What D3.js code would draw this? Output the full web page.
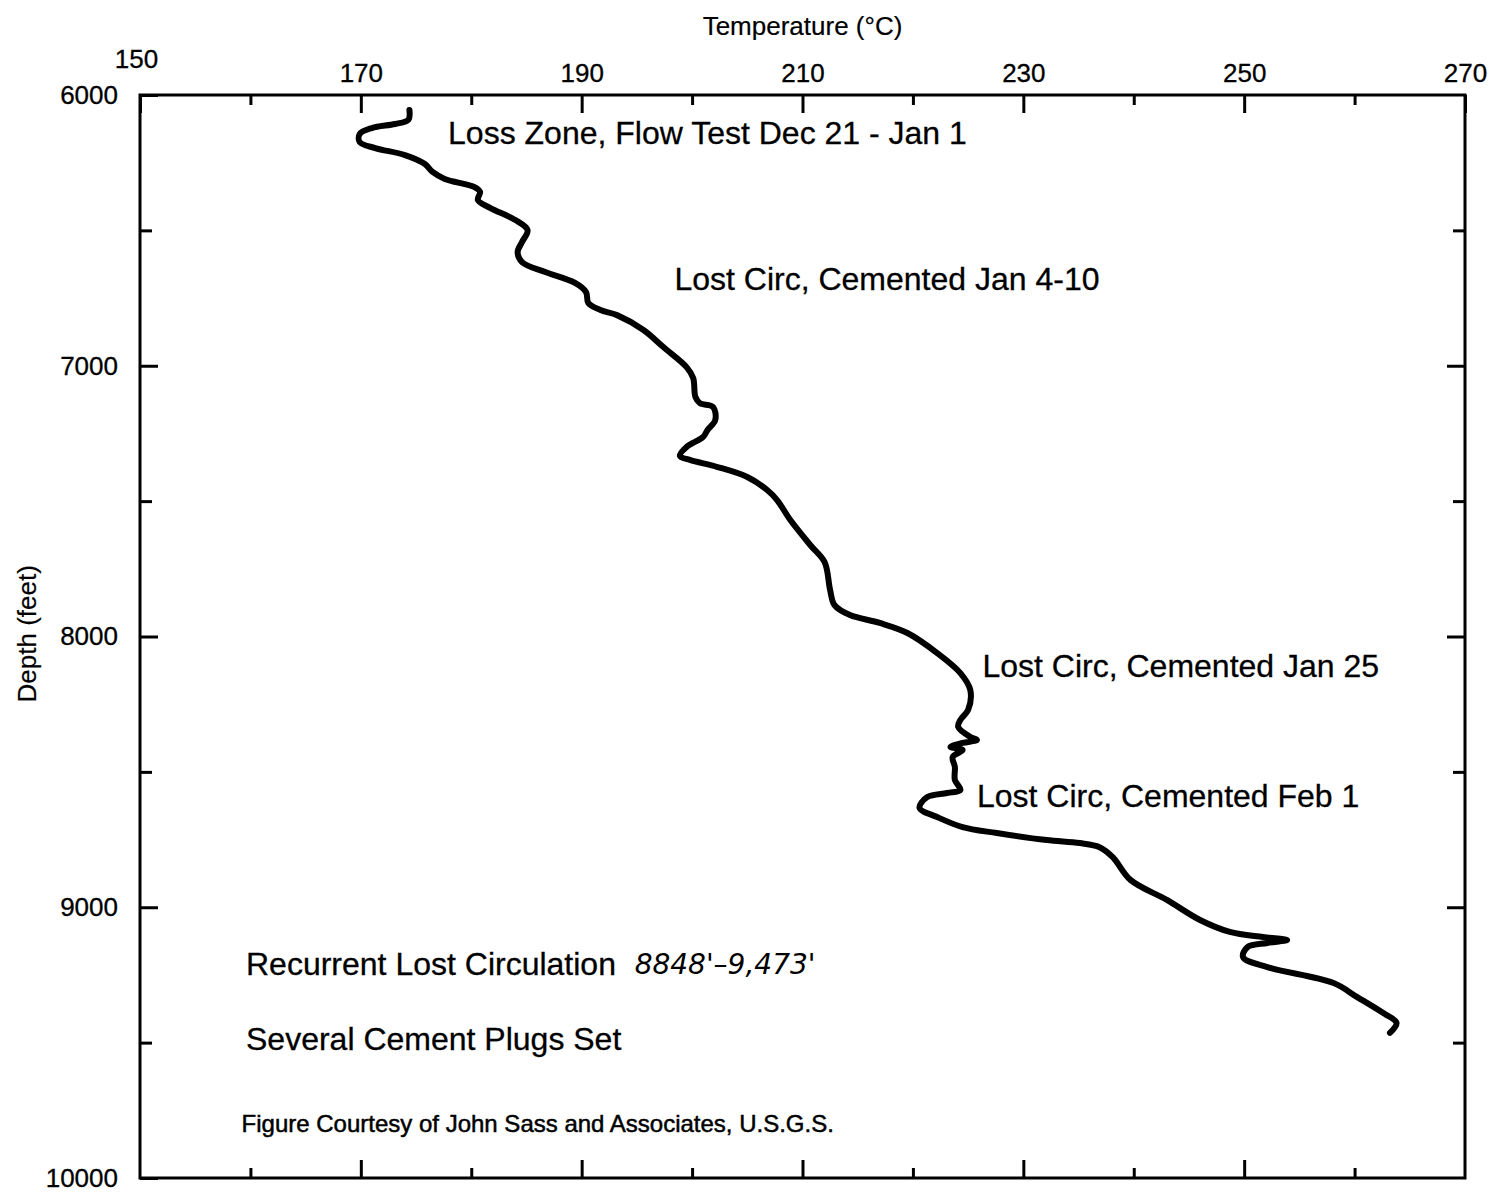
<!DOCTYPE html>
<html lang="en">
<head>
<meta charset="utf-8">
<title>Temperature vs Depth</title>
<script src="https://cdn.jsdelivr.net/npm/d3@7"></script>
<style>
  body { margin: 0; background: #fff; }
  text { font-family: "Liberation Sans", Arial, sans-serif; fill: #000; }
</style>
</head>
<body>
<script>
var temps = [174.4, 174.3, 173.1, 171.0, 169.9, 169.9, 171.3, 174.0, 175.8, 176.5, 177.6, 180.3, 180.8, 180.6,
  181.7, 184.0, 185.1, 184.6, 184.2, 184.6, 186.7, 189.4, 190.4, 190.6, 191.7, 193.2, 195.6, 197.4, 199.5,
  200.1, 200.3, 200.7, 201.9, 202.1, 201.4, 201.0, 199.5, 198.9, 199.8, 202.3, 205.0, 206.8, 207.7, 208.9,
  210.7, 212.0, 212.5, 212.9, 214.3, 217.0, 219.5, 222.2, 224.3, 225.2, 225.0, 224.3, 224.1, 225.2, 225.8,
  224.5, 223.4, 224.5, 223.6, 223.8, 223.8, 224.3, 223.1, 221.3, 220.6, 222.2, 224.5, 227.6, 232.1, 235.1,
  236.9, 238.1, 239.7, 243.0, 246.0, 248.7, 251.7, 253.9, 252.1, 250.3, 249.9, 252.1, 258.1, 260.2, 262.6,
  263.8, 263.2];
var depths = [6055, 6092, 6107, 6122, 6144, 6174, 6196, 6222, 6255, 6284, 6310, 6340, 6358, 6388,
  6417, 6462, 6499, 6543, 6580, 6617, 6654, 6694, 6728, 6768, 6794, 6813, 6868, 6931, 7005,
  7045, 7115, 7138, 7152, 7200, 7237, 7263, 7300, 7333, 7348, 7374, 7411, 7459, 7496, 7570,
  7662, 7725, 7828, 7884, 7921, 7950, 7987, 8061, 8135, 8198, 8271, 8308, 8334, 8371, 8382,
  8393, 8408, 8419, 8445, 8482, 8530, 8567, 8578, 8593, 8633, 8667, 8704, 8726, 8752, 8763,
  8778, 8815, 8899, 8973, 9047, 9091, 9110, 9121, 9132, 9147, 9184, 9221, 9280, 9331, 9391,
  9427, 9464];

var tempMajor = [150, 170, 190, 210, 230, 250, 270];
var tempMinor = [160, 180, 200, 220, 240, 260];
var depthMajor = [6000, 7000, 8000, 9000, 10000];
var depthMinor = [6500, 7500, 8500, 9500];

var notes = [
  { t: "Loss Zone, Flow Test Dec 21 - Jan 1", temp: 177.9, depth: 6180 },
  { t: "Lost Circ, Cemented Jan 4-10", temp: 198.4, depth: 6720 },
  { t: "Lost Circ, Cemented Jan 25", temp: 226.3, depth: 8150 },
  { t: "Lost Circ, Cemented Feb 1", temp: 225.8, depth: 8628 },
  { t: "Recurrent Lost Circulation", temp: 159.6, depth: 9250 },
  { t: "Several Cement Plugs Set", temp: 159.6, depth: 9528 }
];

var w = 1501, h = 1194;
var mLeft = 140, mTop = 95, pw = 1325, ph = 1083;

var svg = d3.select("body").append("svg")
  .attr("width", w)
  .attr("height", h);

var x = d3.scaleLinear().domain([150, 270]).range([0, pw]);
var y = d3.scaleLinear().domain([6000, 10000]).range([0, ph]);

var g = svg.append("g").attr("transform", "translate(" + mLeft + "," + mTop + ")");

function styleAxis(sel) {
  sel.select(".domain").remove();
  sel.selectAll("line").attr("stroke", "#000").attr("stroke-width", 3);
  sel.selectAll("text").attr("font-size", 26).attr("fill", "#000")
    .attr("stroke", "#000").attr("stroke-width", 0.3)
    .style("font-family", "Liberation Sans, Arial, sans-serif");
}

// top: labelled
var gTop = g.append("g")
  .call(d3.axisTop(x).tickValues(tempMajor).tickSizeInner(-18).tickSizeOuter(0).tickPadding(13).tickFormat(d3.format("d")))
  .call(styleAxis);
gTop.selectAll(".tick").filter(function(d) { return d == 150; }).select("text")
  .attr("dy", "-0.55em").attr("dx", "-4");
g.append("g")
  .call(d3.axisTop(x).tickValues(tempMinor).tickSizeInner(-10).tickSizeOuter(0).tickFormat(""))
  .call(styleAxis);

// bottom: ticks only
g.append("g").attr("transform", "translate(0," + ph + ")")
  .call(d3.axisBottom(x).tickValues(tempMajor.slice(1, -1)).tickSizeInner(-18).tickSizeOuter(0).tickFormat(""))
  .call(styleAxis);
g.append("g").attr("transform", "translate(0," + ph + ")")
  .call(d3.axisBottom(x).tickValues(tempMinor).tickSizeInner(-10).tickSizeOuter(0).tickFormat(""))
  .call(styleAxis);

// left: labelled
g.append("g")
  .call(d3.axisLeft(y).tickValues(depthMajor).tickSizeInner(-18).tickSizeOuter(0).tickPadding(22).tickFormat(d3.format("d")))
  .call(styleAxis);
g.append("g")
  .call(d3.axisLeft(y).tickValues(depthMinor).tickSizeInner(-12).tickSizeOuter(0).tickFormat(""))
  .call(styleAxis);

// right: ticks only
g.append("g").attr("transform", "translate(" + pw + ",0)")
  .call(d3.axisRight(y).tickValues(depthMajor.slice(1, -1)).tickSizeInner(-18).tickSizeOuter(0).tickFormat(""))
  .call(styleAxis);
g.append("g").attr("transform", "translate(" + pw + ",0)")
  .call(d3.axisRight(y).tickValues(depthMinor).tickSizeInner(-12).tickSizeOuter(0).tickFormat(""))
  .call(styleAxis);

// frame
g.append("rect")
  .attr("width", pw).attr("height", ph)
  .attr("fill", "none").attr("stroke", "#000").attr("stroke-width", 3);

// axis titles
svg.append("text")
  .attr("x", mLeft + x(210)).attr("y", 35)
  .attr("text-anchor", "middle").attr("font-size", 26)
  .attr("stroke", "#000").attr("stroke-width", 0.2)
  .text("Temperature (°C)");
svg.append("text")
  .attr("transform", "translate(36," + (mTop + y(7990)) + ") rotate(-90)")
  .attr("text-anchor", "middle").attr("font-size", 26)
  .attr("stroke", "#000").attr("stroke-width", 0.2)
  .text("Depth (feet)");

// temperature log
var line = d3.line()
  .x(function(d, i) { return x(temps[i]); })
  .y(function(d) { return y(d); })
  .curve(d3.curveCatmullRom.alpha(0.5));

g.append("path")
  .attr("d", line(depths))
  .attr("fill", "none")
  .attr("stroke", "#000")
  .attr("stroke-width", 6)
  .attr("stroke-linecap", "round")
  .attr("stroke-linejoin", "round");

// annotations
g.selectAll("text.note")
  .data(notes)
  .enter()
  .append("text")
  .attr("class", "note")
  .attr("x", function(d) { return x(d.temp); })
  .attr("y", function(d) { return y(d.depth); })
  .attr("font-size", 32)
  .attr("stroke", "#000").attr("stroke-width", 0.3)
  .text(function(d) { return d.t; });

// handwritten depth range
g.append("text")
  .attr("x", x(194.8)).attr("y", y(9245))
  .attr("font-size", 28)
  .attr("font-style", "italic")
  .attr("font-weight", 200)
  .style("font-family", "DejaVu Sans, sans-serif")
  .text("8848'–9,473'");

g.append("text")
  .attr("x", x(159.2)).attr("y", y(9830))
  .attr("font-size", 24)
  .attr("stroke", "#000").attr("stroke-width", 0.5)
  .text("Figure Courtesy of John Sass and Associates, U.S.G.S.");
</script>
</body>
</html>
